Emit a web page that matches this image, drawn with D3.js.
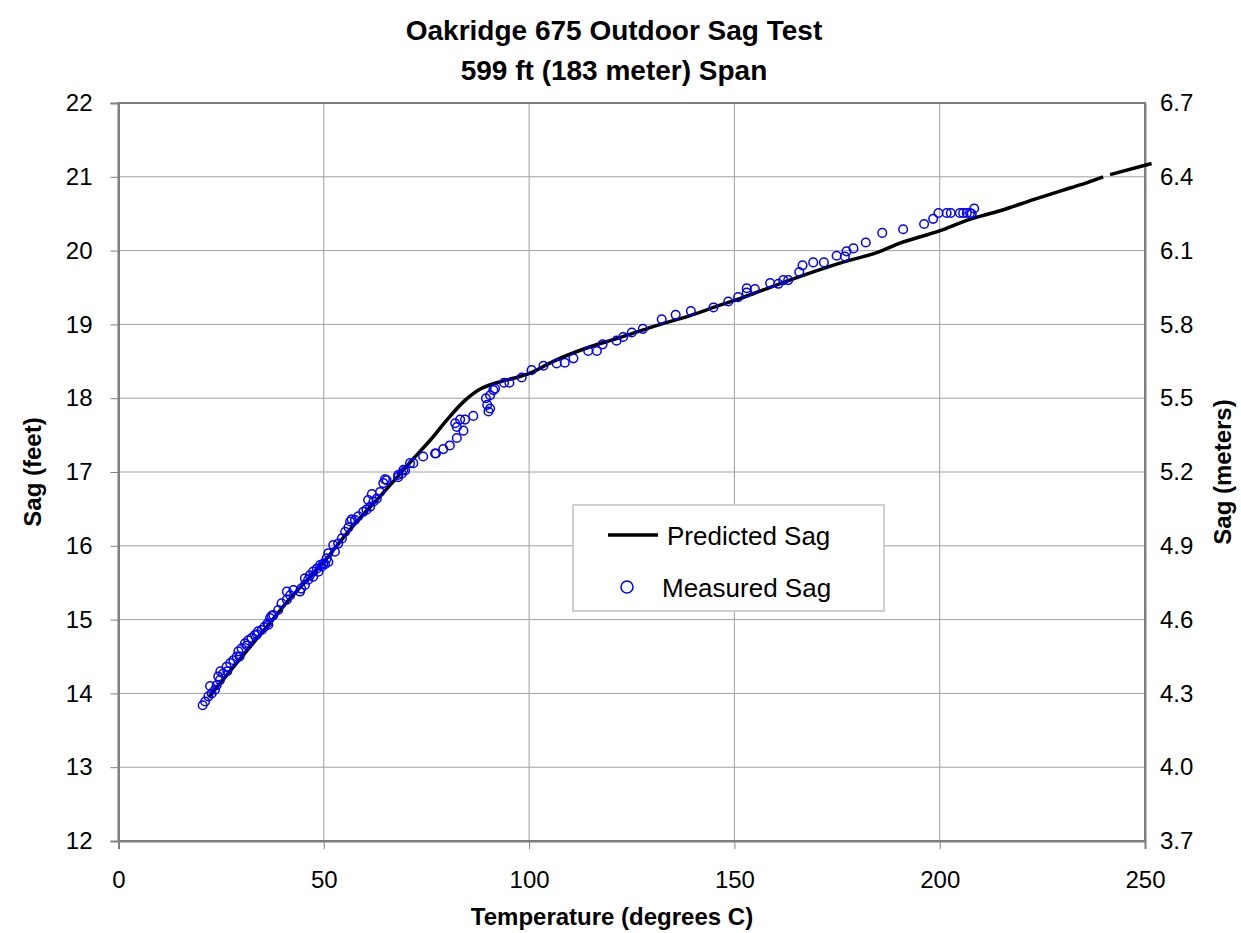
<!DOCTYPE html>
<html>
<head>
<meta charset="utf-8">
<script src="https://cdn.jsdelivr.net/npm/d3@7"></script>
<style>
  body { margin: 0; background: #fff; }
  text { font-family: "Liberation Sans", Arial, sans-serif; fill: #000; }
</style>
</head>
<body>
<div id="chart"></div>
<script>
// --- Data ---
const titleLines = ["Oakridge 675 Outdoor Sag Test", "599 ft (183 meter) Span"];
const tempTicks = [0, 50, 100, 150, 200, 250];
const feetTicks = [12, 13, 14, 15, 16, 17, 18, 19, 20, 21, 22];
const meterTicks = [3.7, 4.0, 4.3, 4.6, 4.9, 5.2, 5.5, 5.8, 6.1, 6.4, 6.7];

// predicted sag curve (temperature C, sag ft); null = gap in the line
const predictedTemp = [22, 28, 36.5, 42, 50, 55.6, 60, 63.7, 66.9, 71.8, 75.9, 79.9, 84, 88, 92.1, 96.2,
  100.2, 105.9, 114, 122.1, 130.2, 139.2, 146.5, 151.3, 156.2, 163.5, 175.7, 185.5, 190.3, 200.1,
  206.6, 214.7, 222.8, 230.1, 234.2, 239.8, null, 241.5, 251.6];
const predictedSag = [13.95, 14.36, 14.93, 15.3, 15.78, 16.17, 16.45, 16.67, 16.87, 17.18, 17.43, 17.70,
  17.95, 18.12, 18.21, 18.27, 18.34, 18.50, 18.68, 18.82, 18.97, 19.12, 19.26, 19.35, 19.45, 19.60,
  19.83, 19.99, 20.10, 20.27, 20.41, 20.54, 20.69, 20.82, 20.89, 21.0, null, 21.03, 21.18];

// measured sag points
const measuredTemp = [20.5, 21.1, 21.9, 22.7, 23.5, 23.9, 24.7, 24.3, 25.5, 26.3, 27.2, 28.0, 28.8, 29.2,
  30.0, 30.8, 31.6, 32.4, 33.2, 34.0, 34.9, 36.5, 36.9, 37.7, 38.9, 39.7, 41.0, 41.8, 42.6, 44.2, 45.4,
  46.2, 47.4, 48.7, 49.5, 50.3, 51.1,
  22.3, 24.8, 26.5, 29.5, 31.3, 33.7, 35.5, 36.3, 37.3, 41.0, 44.5,
  45.4, 46.6, 47.4, 48.3, 49.1, 49.9, 50.7, 51.1, 52.7, 52.3, 53.5, 54.4, 55.2, 56.0, 56.4, 56.8, 57.6,
  58.4, 59.6, 60.4, 61.3, 62.1, 60.8, 61.7, 62.9, 63.7, 64.5, 65.3, 68.1, 69.0, 69.8, 71.8, 74.2, 77.1,
  64.9, 68.1, 69.4, 71.0, 77.3, 79.1, 80.7, 82.4, 84.0, 82.4, 82.0, 83.2, 84.4, 86.4, 90.1, 90.5, 89.8,
  89.5, 90.5, 91.3, 91.7, 93.9, 95.2, 98.2, 100.6, 103.5, 106.7,
  108.7, 110.8, 114.4, 116.5, 117.9, 121.3, 122.9, 125.0, 127.7, 132.3, 135.7, 139.4, 144.9, 148.5,
  150.9, 153.0, 153.0, 155.0,
  158.7, 160.7, 161.9, 163.1, 165.8, 166.6, 169.2, 171.8, 174.9, 176.9, 177.3, 179.0, 182.0, 186.0,
  191.1, 196.2, 198.4, 199.7, 201.7, 202.7, 204.9, 205.7, 206.6, 207.4, 207.8, 208.4];
const measuredSag = [13.84, 13.89, 13.96, 14.0, 14.05, 14.11, 14.18, 14.23, 14.27, 14.36, 14.41, 14.45, 14.50, 14.57,
  14.61, 14.68, 14.72, 14.75, 14.79, 14.84, 14.86, 14.93, 15.02, 15.06, 15.13, 15.22, 15.27, 15.33, 15.40, 15.38, 15.47,
  15.54, 15.58, 15.65, 15.72, 15.75, 15.78,
  14.1, 14.3, 14.3, 14.5, 14.65, 14.8, 14.9, 14.95, 15.05, 15.38, 15.42,
  15.56, 15.60, 15.65, 15.69, 15.74, 15.76, 15.83, 15.90, 15.92, 16.01, 16.03, 16.10, 16.19, 16.25, 16.33, 16.36, 16.35,
  16.40, 16.46, 16.49, 16.53, 16.60, 16.62, 16.70, 16.64, 16.73, 16.85, 16.89, 16.93, 16.98, 17.02, 17.12, 17.21, 17.25,
  16.90, 16.96, 17.03, 17.12, 17.25, 17.31, 17.36, 17.46, 17.56, 17.61, 17.66, 17.71, 17.71, 17.76, 17.82, 17.86, 17.91,
  18.0, 18.04, 18.11, 18.13, 18.21, 18.21, 18.28, 18.38, 18.44, 18.47,
  18.48, 18.54, 18.64, 18.64, 18.73, 18.78, 18.83, 18.89, 18.94, 19.07, 19.13, 19.18, 19.23, 19.31,
  19.37, 19.43, 19.49, 19.48,
  19.56, 19.55, 19.60, 19.60, 19.71, 19.80, 19.84, 19.84, 19.93, 19.92, 19.99, 20.03, 20.11, 20.24,
  20.29, 20.36, 20.43, 20.51, 20.51, 20.51, 20.51, 20.51, 20.51, 20.51, 20.50, 20.57];

// --------------------------
// CHART SETUP
// --------------------------
const width = 1241;
const height = 933;
const plot = { left: 118.5, right: 1145, top: 103, bottom: 841 };

const svg = d3.select("#chart")
  .append("svg")
  .attr("width", width)
  .attr("height", height);

const x = d3.scaleLinear().domain([0, 250]).range([plot.left, plot.right]);
const y = d3.scaleLinear().domain([12, 22]).range([plot.bottom, plot.top]);
const yM = d3.scaleLinear().domain([3.7, 6.7]).range([plot.bottom, plot.top]);

// gridlines
svg.append("g")
  .selectAll("line.hgrid")
  .data(feetTicks.slice(1, -1))
  .join("line")
    .attr("x1", plot.left).attr("x2", plot.right)
    .attr("y1", d => y(d)).attr("y2", d => y(d))
    .attr("stroke", "#a0a0a0").attr("stroke-width", 1);

svg.append("g")
  .selectAll("line.vgrid")
  .data(tempTicks.slice(1, -1))
  .join("line")
    .attr("x1", d => x(d)).attr("x2", d => x(d))
    .attr("y1", plot.top).attr("y2", plot.bottom)
    .attr("stroke", "#a0a0a0").attr("stroke-width", 1);

// plot frame
svg.append("rect")
  .attr("x", plot.left).attr("y", plot.top)
  .attr("width", plot.right - plot.left).attr("height", plot.bottom - plot.top)
  .attr("fill", "none").attr("stroke", "#7f7f7f").attr("stroke-width", 2);

// axes
const fontSize = "24px";

const xAxis = svg.append("g")
  .attr("transform", `translate(0, ${plot.bottom})`)
  .call(d3.axisBottom(x).tickValues(tempTicks).tickSize(8).tickPadding(22));
const yAxis = svg.append("g")
  .attr("transform", `translate(${plot.left}, 0)`)
  .call(d3.axisLeft(y).tickValues(feetTicks).tickSize(8).tickPadding(18));
const yAxisR = svg.append("g")
  .attr("transform", `translate(${plot.right}, 0)`)
  .call(d3.axisRight(yM).tickValues(meterTicks).tickFormat(d3.format(".1f")).tickSize(0).tickPadding(15));

[xAxis, yAxis, yAxisR].forEach(g => {
  g.select(".domain").attr("stroke", "#7f7f7f").attr("stroke-width", 2);
  g.selectAll(".tick line").attr("stroke", "#7f7f7f");
  g.selectAll("text")
    .style("font-family", "'Liberation Sans', Arial, sans-serif")
    .style("font-size", fontSize)
    .attr("fill", "#000");
});

// predicted line
const predicted = predictedTemp.map((t, i) => t === null ? null : { t, s: predictedSag[i] });
svg.append("path")
  .datum(predicted)
  .attr("fill", "none")
  .attr("stroke", "#000")
  .attr("stroke-width", 3.5)
  .attr("stroke-linejoin", "round")
  .attr("d", d3.line().defined(d => d !== null).x(d => x(d.t)).y(d => y(d.s)).curve(d3.curveMonotoneX));

// measured points
const measured = measuredTemp.map((t, i) => ({ t, s: measuredSag[i] }));
svg.append("g")
  .selectAll("circle")
  .data(measured)
  .join("circle")
    .attr("cx", d => x(d.t))
    .attr("cy", d => y(d.s))
    .attr("r", 4.3)
    .attr("fill", "none")
    .attr("stroke", "#0000ff")
    .attr("stroke-width", 1.5);

// titles
svg.append("g")
  .selectAll("text")
  .data(titleLines)
  .join("text")
    .attr("x", 614)
    .attr("y", (d, i) => 40 + i * 40)
    .attr("text-anchor", "middle")
    .style("font-size", "28px")
    .style("font-weight", "bold")
    .text(d => d);

svg.append("text")
  .attr("x", 612).attr("y", 925)
  .attr("text-anchor", "middle")
  .style("font-size", "24px").style("font-weight", "bold")
  .text("Temperature (degrees C)");

svg.append("text")
  .attr("transform", `translate(41, ${(plot.top + plot.bottom) / 2}) rotate(-90)`)
  .attr("text-anchor", "middle")
  .style("font-size", "24px").style("font-weight", "bold")
  .text("Sag (feet)");

svg.append("text")
  .attr("transform", `translate(1231, ${(plot.top + plot.bottom) / 2}) rotate(-90)`)
  .attr("text-anchor", "middle")
  .style("font-size", "24px").style("font-weight", "bold")
  .text("Sag (meters)");

// legend
const legend = svg.append("g").attr("transform", "translate(573, 505)");
legend.append("rect")
  .attr("width", 311).attr("height", 106)
  .attr("fill", "#fff").attr("stroke", "#c0c0c0").attr("stroke-width", 1.5);
legend.append("line")
  .attr("x1", 35).attr("x2", 85).attr("y1", 30).attr("y2", 30)
  .attr("stroke", "#000").attr("stroke-width", 3.5);
legend.append("text")
  .attr("x", 94).attr("y", 40)
  .style("font-size", "26px")
  .text("Predicted Sag");
legend.append("circle")
  .attr("cx", 54).attr("cy", 82).attr("r", 6)
  .attr("fill", "none").attr("stroke", "#0000ff").attr("stroke-width", 1.5);
legend.append("text")
  .attr("x", 89).attr("y", 92)
  .style("font-size", "26px")
  .text("Measured Sag");
</script>
</body>
</html>
